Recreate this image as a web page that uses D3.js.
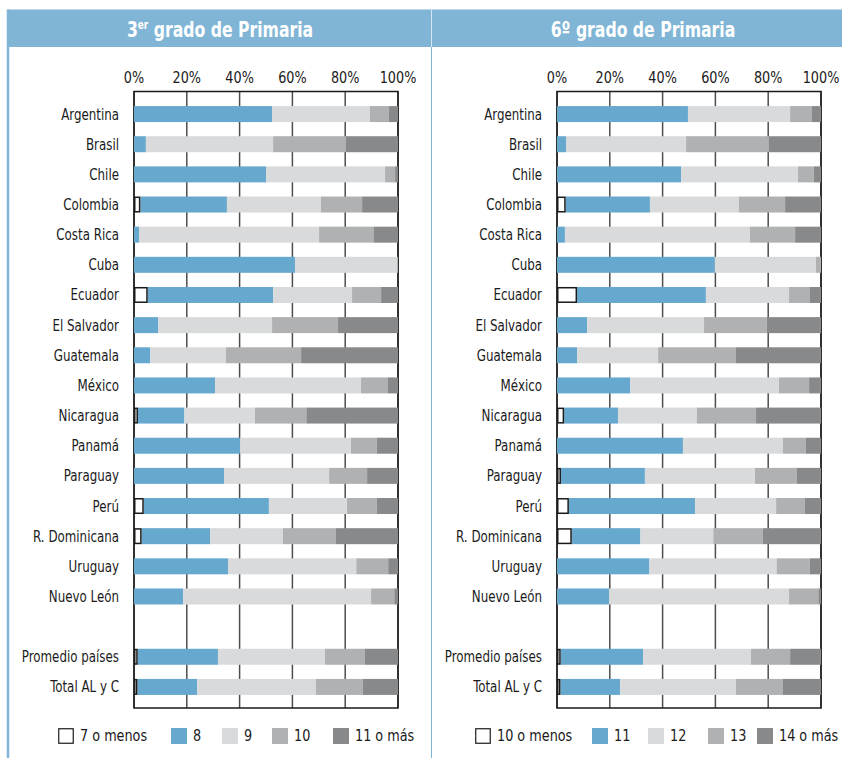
<!DOCTYPE html>
<html>
<head>
<meta charset="utf-8">
<script src="https://cdn.jsdelivr.net/npm/d3@7/dist/d3.min.js"></script>
<style>
  body { margin: 0; background: #fff; }
  svg text { font-family: "DejaVu Sans Condensed", "DejaVu Sans", sans-serif; fill: #1a1a1a; }
</style>
</head>
<body>
<svg id="chart"></svg>
<script>
// Row labels (top to bottom)
const countries = ['Argentina', 'Brasil', 'Chile', 'Colombia', 'Costa Rica', 'Cuba', 'Ecuador',
    'El Salvador', 'Guatemala', 'México', 'Nicaragua', 'Panamá', 'Paraguay', 'Perú',
    'R. Dominicana', 'Uruguay', 'Nuevo León'];
const aggregates = ['Promedio países', 'Total AL y C'];
const tickLabels = ['0%', '20%', '40%', '60%', '80%', '100%'];

// legend / series names
const names3 = ['7 o menos', '8', '9', '10', '11 o más'];
const names6 = ['10 o menos', '11', '12', '13', '14 o más'];

// % of students by age, one row per label (countries then aggregates)
const grade3 = [
    [0, 52.3, 37.1, 7.2, 3.4],
    [0, 4.5, 48.2, 27.6, 19.7],
    [0, 50.0, 45.1, 3.8, 1.1],
    [2.4, 32.8, 35.6, 15.6, 13.6],
    [0, 1.9, 68.2, 20.8, 9.1],
    [0, 61.0, 38.6, 0.4, 0],
    [5.2, 47.5, 29.9, 11.0, 6.4],
    [0, 9.1, 43.2, 25.0, 22.7],
    [0, 6.1, 28.7, 28.5, 36.7],
    [0, 30.7, 55.3, 10.2, 3.8],
    [1.5, 17.6, 26.7, 19.5, 34.7],
    [0, 40.2, 42.0, 9.8, 8.0],
    [0, 34.1, 39.8, 14.4, 11.7],
    [3.7, 47.4, 29.6, 11.3, 8.0],
    [2.9, 26.0, 27.5, 20.1, 23.5],
    [0, 35.6, 48.6, 12.1, 3.7],
    [0, 18.6, 71.2, 8.8, 1.4],
    [1.4, 30.4, 40.5, 15.2, 12.5],
    [1.3, 22.6, 45.0, 17.8, 13.3]
];
const grade6 = [
    [0, 49.6, 38.7, 8.3, 3.4],
    [0, 3.4, 45.5, 31.4, 19.7],
    [0, 47.0, 44.3, 6.0, 2.7],
    [3.3, 31.9, 33.7, 17.5, 13.6],
    [0, 3.0, 70.1, 17.1, 9.8],
    [0, 59.8, 38.3, 1.9, 0],
    [7.6, 48.8, 31.5, 7.9, 4.2],
    [0, 11.4, 44.3, 23.8, 20.5],
    [0, 7.6, 30.7, 29.5, 32.2],
    [0, 27.7, 56.4, 11.4, 4.5],
    [2.7, 20.4, 29.9, 22.4, 24.6],
    [0, 47.7, 37.9, 8.7, 5.7],
    [1.5, 31.8, 41.7, 15.9, 9.1],
    [4.5, 47.8, 30.7, 10.9, 6.1],
    [5.6, 26.0, 27.6, 18.7, 22.1],
    [0, 35.0, 48.2, 12.5, 4.3],
    [0, 19.7, 68.2, 11.1, 1.0],
    [1.4, 31.2, 40.9, 14.8, 11.7],
    [1.3, 22.6, 43.9, 17.8, 14.4]
];

const colors = ['#ffffff', '#66a8ce', '#d9dadc', '#b0b1b3', '#88898b'];
const blue = '#80b5d6';

const W = 842, H = 758;
const svg = d3.select('#chart').attr('width', W).attr('height', H);

// frame: header band, left rule, divider
svg.append('rect').attr('x', 8).attr('y', 9.5).attr('width', W - 8).attr('height', 37.5).attr('fill', blue);
svg.append('line').attr('x1', 8).attr('x2', 8).attr('y1', 9.5).attr('y2', H).attr('stroke', blue).attr('stroke-width', 2.5);
svg.append('line').attr('x1', 431.5).attr('x2', 431.5).attr('y1', 47).attr('y2', H).attr('stroke', blue).attr('stroke-width', 1);
svg.append('line').attr('x1', 431.5).attr('x2', 431.5).attr('y1', 9.5).attr('y2', 47).attr('stroke', '#d4e6f2').attr('stroke-width', 1);

const gapKey = '__gap__';
const rows = countries.concat([gapKey], aggregates);
const y = d3.scalePoint().domain(rows).range([99, 702]).padding(0.5);
const barH = 16;

function drawPanel(opt) {
    const g = svg.append('g');
    const x = d3.scaleLinear().domain([0, 1]).range([opt.x0, opt.x0 + 264]);

    // title (squeezed horizontally to mimic the condensed face)
    const title = g.append('text')
        .attr('transform', `translate(${opt.titleX},37) scale(0.83,1)`)
        .attr('text-anchor', 'middle')
        .style('font-size', '21px').style('font-weight', 'bold').style('fill', '#fff');
    title.append('tspan').text(opt.titleA);
    if (opt.sup) title.append('tspan').attr('dy', -8).style('font-size', '12px').text(opt.sup);
    title.append('tspan').attr('dy', opt.sup ? 8 : 0).text(opt.titleB);

    // top axis labels
    const tickVals = d3.range(0, 1.0001, 0.2);
    g.selectAll('.tick-label').data(tickVals).join('text')
        .attr('transform', d => `translate(${x(d)},83) scale(0.95,1)`)
        .attr('text-anchor', 'middle')
        .style('font-size', '15px')
        .text((d, i) => tickLabels[i]);

    // gridlines
    g.selectAll('.grid').data(tickVals).join('line')
        .attr('x1', d => x(d)).attr('x2', d => x(d))
        .attr('y1', 91.5).attr('y2', 708)
        .attr('stroke', '#4d4d4d').attr('stroke-width', 1.5);
    g.append('rect')
        .attr('x', x(0)).attr('y', 91.5).attr('width', x(1) - x(0)).attr('height', 708 - 91.5)
        .attr('fill', 'none').attr('stroke', '#1a1a1a').attr('stroke-width', 1.5);

    // stacked bars
    const labels = countries.concat(aggregates);
    const keys = d3.range(5);
    const table = labels.map((l, i) => {
        const o = { label: l };
        keys.forEach(k => o[k] = opt.values[i][k]);
        return o;
    });
    const series = d3.stack().keys(keys).offset(d3.stackOffsetExpand)(table);
    // draw the "white" layer last so its outline sits on top
    const order = [1, 2, 3, 4, 0];
    order.forEach(k => {
        const s = series[k];
        g.append('g').selectAll('rect')
            .data(s.filter(d => d[1] - d[0] > 0))
            .join('rect')
            .attr('x', d => k === 0 ? x(d[0]) + 0.75 : x(d[0]))
            .attr('y', d => y(d.data.label) - barH / 2 + (k === 0 ? 0.75 : 0))
            .attr('width', d => k === 0 ? Math.max(x(d[1]) - x(d[0]) - 1.5, 1) : x(d[1]) - x(d[0]))
            .attr('height', k === 0 ? barH - 1.5 : barH)
            .attr('fill', colors[k])
            .attr('stroke', k === 0 ? '#1a1a1a' : 'none')
            .attr('stroke-width', 1.5);
    });

    // row labels
    g.selectAll('.row-label').data(labels).join('text')
        .attr('transform', d => `translate(${x(0) - 15},${y(d) + 5.5}) scale(0.88,1)`)
        .attr('text-anchor', 'end')
        .style('font-size', '15px')
        .text(d => d);

    // legend
    const lg = g.selectAll('.leg').data(opt.names).join('g')
        .attr('transform', (d, i) => `translate(${opt.legendX[i]},728)`);
    lg.append('rect')
        .attr('x', (d, i) => i === 0 ? 0.75 : 0).attr('y', (d, i) => i === 0 ? 0.75 : 0)
        .attr('width', (d, i) => i === 0 ? 14.5 : 16).attr('height', (d, i) => i === 0 ? 14.5 : 16)
        .attr('fill', (d, i) => colors[i])
        .attr('stroke', (d, i) => i === 0 ? '#1a1a1a' : 'none').attr('stroke-width', 1.2);
    lg.append('text')
        .attr('transform', 'translate(22,13) scale(0.92,1)')
        .style('font-size', '15.5px')
        .text(d => d);
}

drawPanel({
    x0: 134, titleX: 220, titleA: '3', sup: 'er', titleB: ' grado de Primaria',
    values: grade3, names: names3, legendX: [58, 171, 222, 272, 333]
});
drawPanel({
    x0: 557, titleX: 643, titleA: '6º grado de Primaria', sup: null, titleB: '',
    values: grade6, names: names6, legendX: [475, 592, 648, 708, 757]
});
</script>
</body>
</html>
